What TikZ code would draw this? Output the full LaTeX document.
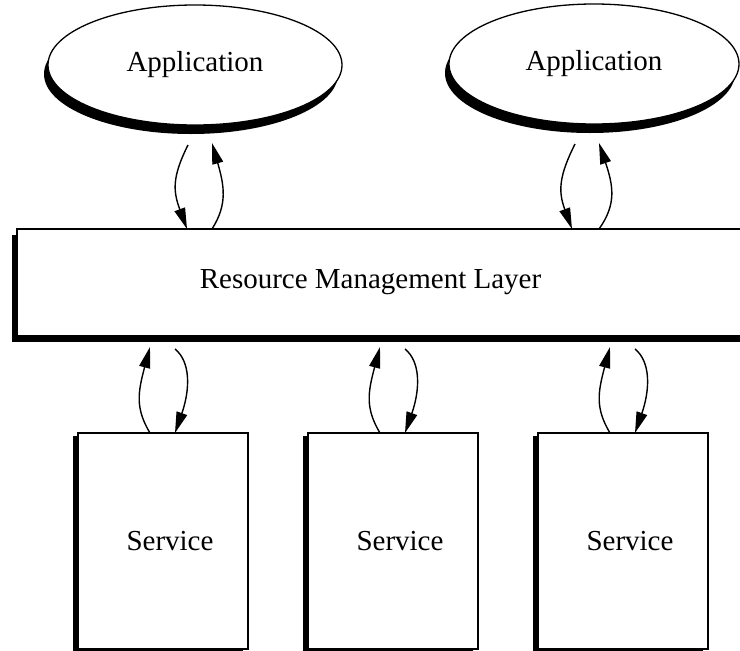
\documentclass[tikz,border=0pt]{standalone}
\usepackage{fontspec}
\setmainfont{Liberation Serif}
\usetikzlibrary{shapes.geometric,shadows,arrows.meta,calc}
\begin{document}
\begin{tikzpicture}[x=1pt,y=-1pt,
  every node/.style={font=\fontsize{29}{33}\selectfont},
  appl/.style={ellipse, draw, line width=1.3pt, fill=white, inner sep=0pt, outer sep=0pt,
    general shadow={fill=black, shadow xshift=-4pt, shadow yshift=-9pt}},
  layerbox/.style={rectangle, draw, line width=1.4pt, fill=white, inner sep=0pt, outer sep=0pt,
    general shadow={fill=black, shadow xshift=-5pt, shadow yshift=-6pt}},
  svcbox/.style={rectangle, draw, line width=1.4pt, fill=white, inner sep=0pt, outer sep=0pt,
    minimum width=170pt, minimum height=216pt,
    general shadow={fill=black, shadow xshift=-5pt, shadow yshift=-3pt}},
  arr/.style={line width=1.4pt, -{Triangle[length=21pt,width=11pt]}}
]
\useasboundingbox (0,0) rectangle (740,651);

\node[appl, minimum width=294pt, minimum height=120pt] (app1) at (195,65) {Application};
\node[appl, minimum width=290pt, minimum height=120pt] (app2) at (594,64) {Application};

\node[layerbox, minimum width=743pt, minimum height=107pt,
  label={[xshift=-18pt]center:Resource Management Layer}] (layer) at (388.5,282.5) {};

\node[svcbox, label={[xshift=7pt]center:Service}] (s1) at (163,541) {};
\node[svcbox, label={[xshift=7pt]center:Service}] (s2) at (393,541) {};
\node[svcbox, label={[xshift=7pt]center:Service}] (s3) at (623,541) {};

% application 1 <-> layer
\draw[arr] ($(app1.south)+(-7,20)$) .. controls +(-16,32) and +(-14,-38) .. ($(app1.south |- layer.north)+(-8,0)$);
\draw[arr] ($(app1.south |- layer.north)+(17,0)$) .. controls +(16,-25) and +(12,42) .. ($(app1.south)+(17,18)$);
% application 2 <-> layer
\draw[arr] ($(app2.south)+(-19,20)$) .. controls +(-16,32) and +(-14,-38) .. ($(app2.south |- layer.north)+(-22,0)$);
\draw[arr] ($(app2.south |- layer.north)+(5,0)$) .. controls +(18,-25) and +(14,42) .. ($(app2.south)+(5,19)$);

% services <-> layer
\foreach \s in {s1,s2,s3}{
  \draw[arr] ($(\s.north)+(-13,0)$) .. controls +(-15,-25) and +(-12,45) .. ($(\s.north |- layer.south)+(-13,11)$);
  \draw[arr] ($(\s.north |- layer.south)+(12,13)$) .. controls +(16,13) and +(15,-43) .. ($(\s.north)+(12,0)$);
}
\end{tikzpicture}
\end{document}
